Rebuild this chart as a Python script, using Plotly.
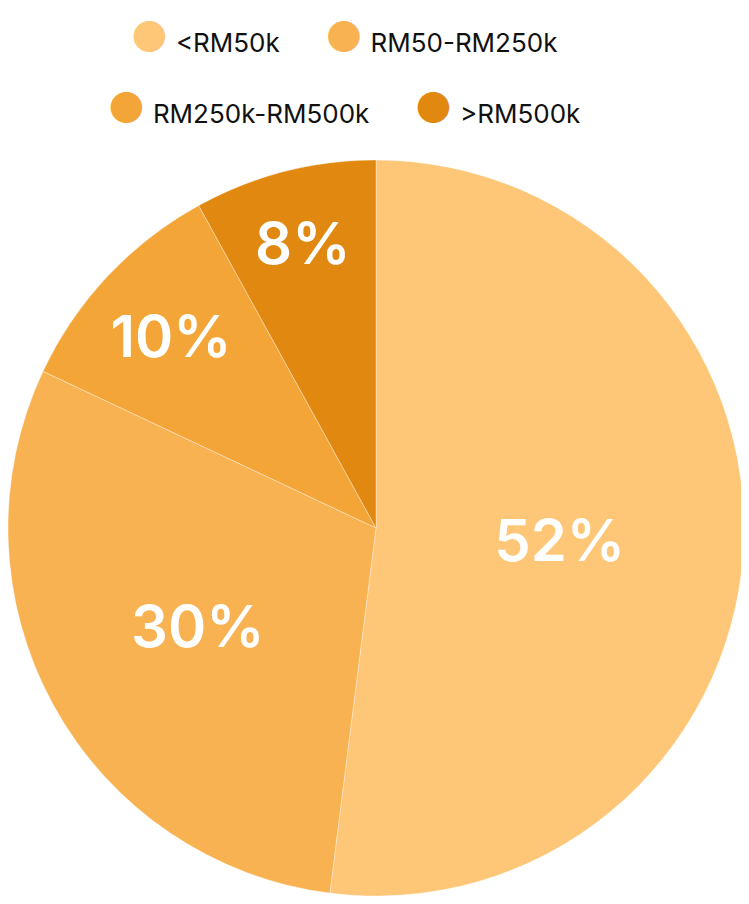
import plotly.graph_objects as go

# income bands and share of respondents (%)
categories = ['<RM50k', 'RM50-RM250k', 'RM250k-RM500k', '>RM500k']
legend_labels = ['&lt;RM50k', 'RM50-RM250k', 'RM250k-RM500k', '&gt;RM500k']
shares = [52, 30, 10, 8]
colours = ['#FEC677', '#F9B251', '#F4A537', '#E0880F']

fig = go.Figure()

fig.add_trace(go.Pie(
    labels=categories,
    values=shares,
    sort=False,
    direction='clockwise',
    rotation=0,
    marker=dict(colors=colours, line=dict(color='rgba(255,255,255,0.35)', width=1)),
    texttemplate='%{value}%',
    textposition='inside',
    insidetextorientation='horizontal',
    textfont=dict(family='Inter', size=58, color='white', weight=600),
    showlegend=False,
    hoverinfo='label+percent',
))

# legend entries with round dots (pie legend only draws squares)
for i, (lab, col) in enumerate(zip(legend_labels, colours)):
    fig.add_trace(go.Scatter(
        x=[None], y=[None], mode='markers',
        marker=dict(color='rgba(0,0,0,0)', size=1),
        name=f'<span style="color:{col};font-size:42px">●</span> {lab}',
        legend='legend' if i < 2 else 'legend2',
        hoverinfo='skip',
    ))

legend_style = dict(orientation='h', xanchor='center', yanchor='middle',
                    font=dict(family='Inter', size=26, color='#111111'),
                    itemwidth=30, bgcolor='rgba(0,0,0,0)')

# page has an 8px body margin, so the figure is a bit smaller than the window
fig.update_layout(
    width=741, height=888,
    margin=dict(l=0, r=5, t=152, b=0),
    paper_bgcolor='white', plot_bgcolor='white',
    xaxis=dict(visible=False), yaxis=dict(visible=False),
    legend=dict(x=0.433, y=1.16, **legend_style),
    legend2=dict(x=0.433, y=1.0639, **legend_style),
)

fig.write_html("out.html")
